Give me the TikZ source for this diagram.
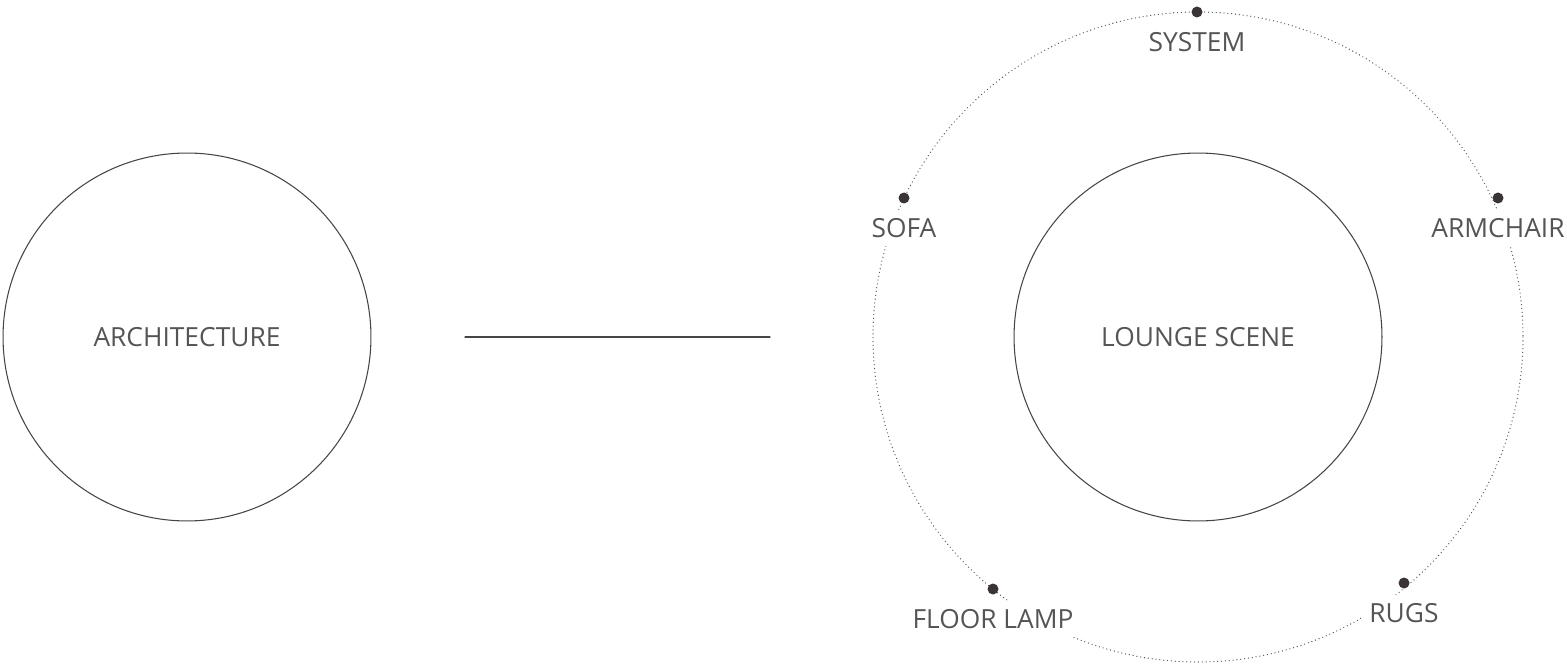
\documentclass[tikz,border=0pt]{standalone}
\usepackage{fontspec}
\setmainfont{Open Sans}
\definecolor{txtgray}{HTML}{555555}
\definecolor{linegray}{HTML}{454545}
\definecolor{dotdark}{HTML}{3A3434}
\tikzset{
  bigcircle/.style={circle,draw=linegray,line width=0.6pt,minimum size=7.36cm,inner sep=0pt},
  orbit/.style={draw=txtgray,line width=0.75pt,line cap=round,dash pattern=on 0pt off 2.2pt},
  spot/.style={circle,fill=dotdark,inner sep=0pt,minimum size=0.22cm},
  tag/.style={fill=white,inner sep=5pt,text=txtgray}
}
\begin{document}
\begin{tikzpicture}[declare function={rout=325;},x=0.02cm,y=-0.02cm,every node/.style={font=\fontsize{15}{18}\selectfont},line join=round,line cap=round]
\useasboundingbox (0,0) rectangle (1567,668);
\path
(187,337) coordinate (L)
(1198,337) coordinate (R)
(465,337) coordinate (s1)
(770,337) coordinate (s2);
\node[bigcircle,text=txtgray] (arch) at (L) {ARCHITECTURE};
\node[bigcircle,text=txtgray] (lounge) at (R) {LOUNGE SCENE};
\draw[line width=0.6pt,draw=linegray] (s1) -- (s2);
\draw[orbit] (R) circle[radius=rout];
\foreach \p/\x/\y/\t in {sys/1197/12/SYSTEM,sofa/904/198/SOFA,arm/1498/198/ARMCHAIR,lamp/993/589/FLOOR LAMP,rugs/1404/583/RUGS}{
  \node[tag] (\p-t) at (\x,\y+30) {\t};
  \node[spot] (\p) at (\x,\y) {};
}
\end{tikzpicture}
\end{document}
